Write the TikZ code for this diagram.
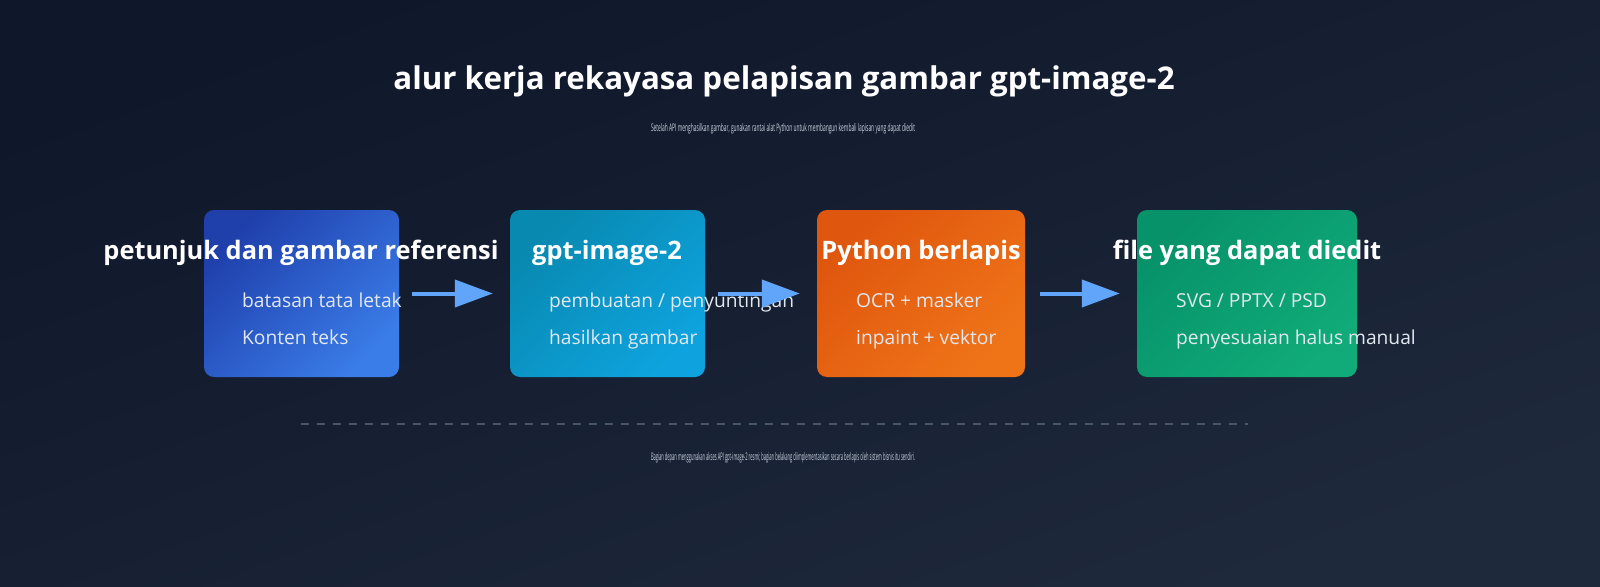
\documentclass[tikz,border=0pt]{standalone}
\usepackage{fontspec}
\setmainfont{Open Sans}
\usepackage{graphicx}
\usetikzlibrary{arrows.meta}
\definecolor{bgA}{HTML}{0F172A}
\definecolor{bgB}{HTML}{1E293B}
\definecolor{bA}{HTML}{1F3FAB}
\definecolor{bB}{HTML}{3A7CE8}
\definecolor{cA}{HTML}{0889B0}
\definecolor{cB}{HTML}{0EA3DE}
\definecolor{oA}{HTML}{DF560E}
\definecolor{oB}{HTML}{EF7418}
\definecolor{gA}{HTML}{07926A}
\definecolor{gB}{HTML}{10AB78}
\definecolor{arrowc}{HTML}{60A5FA}
\definecolor{bodyc}{HTML}{E2E8F0}
\definecolor{smallc}{HTML}{CBD5E1}
\definecolor{dashc}{HTML}{475569}
\tikzset{
  card/.style={rounded corners=10pt, inner sep=0pt},
  cardtitle/.style={text=white, font=\fontsize{25.4}{30}\selectfont\bfseries, inner sep=0pt, anchor=base},
  cardbody/.style={text=bodyc, font=\fontsize{19.2}{23}\selectfont, inner sep=0pt, anchor=base west},
  flow/.style={arrowc, line width=4pt, -{Triangle[length=38pt,width=27pt]}},
}
\begin{document}
\begin{tikzpicture}[x=1pt,y=-1pt]
\useasboundingbox (0,0) rectangle (1600,586);
\shade[left color=bgA, right color=bgB, shading angle=20] (0,0) rectangle (1600,586);

\node[text=white, font=\fontsize{31.3}{37}\selectfont\bfseries, inner sep=0pt, anchor=base] (title) at (784,89) {alur kerja rekayasa pelapisan gambar gpt-image-2};
\node[text=smallc, inner sep=0pt, anchor=base] (sub) at (783,131) {\resizebox{264pt}{8pt}{Setelah API menghasilkan gambar, gunakan rantai alat Python untuk membangun kembali lapisan yang dapat diedit}};

\node[card, left color=bA, right color=bB, shading angle=45, minimum width=195pt, minimum height=167pt] (b1) at (301.5,293.5) {};
\node[card, left color=cA, right color=cB, shading angle=45, minimum width=195pt, minimum height=167pt] (b2) at (607.5,293.5) {};
\node[card, left color=oA, right color=oB, shading angle=45, minimum width=208pt, minimum height=167pt] (b3) at (921,293.5) {};
\node[card, left color=gA, right color=gB, shading angle=45, minimum width=220pt, minimum height=167pt] (b4) at (1247,293.5) {};

\node[cardtitle] (t1) at (301,259) {petunjuk dan gambar referensi};
\node[cardtitle] (t2) at (607,259) {gpt-image-2};
\node[cardtitle] (t3) at (921,259) {Python berlapis};
\node[cardtitle] (t4) at (1247,259) {file yang dapat diedit};

\node[cardbody] (l1a) at (242,307) {batasan tata letak};
\node[cardbody] (l1b) at (242,344) {Konten teks};
\node[cardbody] (l2a) at (549,307) {pembuatan / penyuntingan};
\node[cardbody] (l2b) at (549,344) {hasilkan gambar};
\node[cardbody] (l3a) at (856,307) {OCR + masker};
\node[cardbody] (l3b) at (856,344) {inpaint + vektor};
\node[cardbody] (l4a) at (1176,307) {SVG / PPTX / PSD};
\node[cardbody] (l4b) at (1176,344) {penyesuaian halus manual};

\draw[flow] ([xshift=13pt]b1.east) -- ([xshift=-17pt]b2.west);
\draw[flow] ([xshift=13pt]b2.east) -- ([xshift=-17pt]b3.west);
\draw[flow] ([xshift=15pt]b3.east) -- ([xshift=-17pt]b4.west);

\draw[dashc, line width=2pt, dash pattern=on 8pt off 8pt] (301,424) -- (1248,424);

\node[text=smallc, inner sep=0pt, anchor=base] (foot) at (783,460) {\resizebox{264pt}{8pt}{Bagian depan menggunakan akses API gpt-image-2 resmi; bagian belakang diimplementasikan secara berlapis oleh sistem bisnis itu sendiri.}};
\end{tikzpicture}
\end{document}
